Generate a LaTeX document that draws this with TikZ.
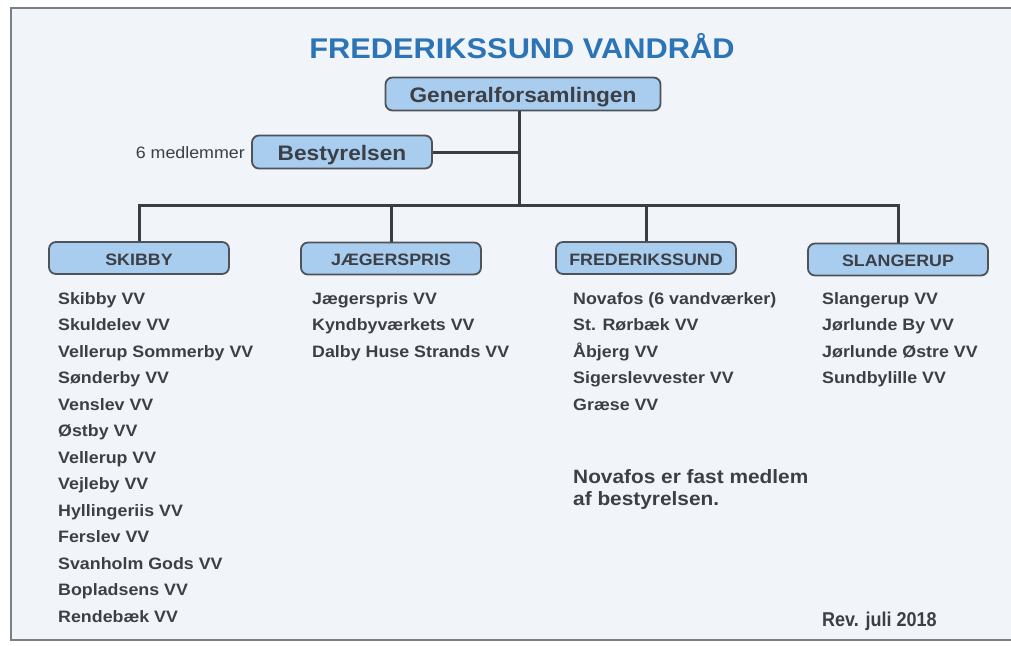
\documentclass[tikz,border=0pt]{standalone}
\usepackage{fontspec}
\setmainfont{Liberation Sans}[FakeStretch=1.08]
\newfontfamily\narrowfont{Liberation Sans}[FakeStretch=0.9]
\definecolor{bgc}{HTML}{F1F4F9}
\definecolor{framec}{HTML}{7A7F87}
\definecolor{titlec}{HTML}{2B74B6}
\definecolor{txt}{HTML}{3C3F46}
\definecolor{boxfill}{HTML}{A9CDEE}
\definecolor{boxline}{HTML}{4E535A}
\definecolor{linec}{HTML}{3A3D42}
\tikzset{
  orgbox/.style={draw=boxline, fill=boxfill, rounded corners=7pt, line width=1.8pt,
    inner sep=0pt, text=txt, font=\fontsize{16.5}{19}\selectfont\bfseries,
    text height=14.5pt, text depth=0pt,
    minimum width=180pt, minimum height=32pt},
  bigbox/.style={orgbox, font=\fontsize{21}{24}\selectfont\bfseries, text height=17pt, minimum height=33pt},
  lst/.style={anchor=base west, inner sep=0pt, text=txt, font=\fontsize{16.5}{19}\selectfont\bfseries},
  conn/.style={draw=linec, line width=3pt}
}
\begin{document}
\begin{tikzpicture}[x=1pt,y=-1pt]
\useasboundingbox (0,0) rectangle (1011,645);
\fill[white] (0,0) rectangle (1011,645);
\fill[bgc] (11,8) rectangle (1030,640);
\draw[framec, line width=2.5pt] (1030,8) -- (11,8) -- (11,640) -- (1030,640);

\node[inner sep=0pt, text=titlec, text height=20.4pt, text depth=0pt, font=\fontsize{28.5}{32}\selectfont\bfseries] (title) at (522,48) {FREDERIKSSUND VANDRÅD};

\node[bigbox, minimum width=275pt] (gen) at (523,94) {Generalforsamlingen};
\node[bigbox, minimum width=180pt] (best) at (342,152) {Bestyrelsen};
\node[anchor=base east, inner sep=0pt, text=txt, font=\fontsize{16.5}{19}\selectfont] (med) at (245,158) {6 medlemmer};

\node[orgbox] (sk) at (139,258) {SKIBBY};
\node[orgbox] (jp) at (391,258.5) {JÆGERSPRIS};
\node[orgbox] (fr) at (646,258) {FREDERIKSSUND};
\node[orgbox] (sl) at (898,259.5) {SLANGERUP};

\coordinate (bus) at (519,205);
\draw[conn] (gen.south -| bus) -- (bus);
\draw[conn] (best.east) -- (best.east -| bus);
\draw[conn] (sk.north) |- (sl.north |- bus) -- (sl.north);
\draw[conn] (jp.north) -- (jp.north |- bus);
\draw[conn] (fr.north) -- (fr.north |- bus);

% SKIBBY list
\node[lst] (s1) at (58,304) {Skibby VV};
\node[lst] (s2) at (58,330.5) {Skuldelev VV};
\node[lst] (s3) at (58,357) {Vellerup Sommerby VV};
\node[lst] (s4) at (58,383.5) {Sønderby VV};
\node[lst] (s5) at (58,410) {Venslev VV};
\node[lst] (s6) at (58,436.5) {Østby VV};
\node[lst] (s7) at (58,463) {Vellerup VV};
\node[lst] (s8) at (58,489.5) {Vejleby VV};
\node[lst] (s9) at (58,516) {Hyllingeriis VV};
\node[lst] (s10) at (58,542.5) {Ferslev VV};
\node[lst] (s11) at (58,569) {Svanholm Gods VV};
\node[lst] (s12) at (58,595.5) {Bopladsens VV};
\node[lst] (s13) at (58,622) {Rendebæk VV};

% JAEGERSPRIS list
\node[lst] (j1) at (312,304) {Jægerspris VV};
\node[lst] (j2) at (312,330.5) {Kyndbyværkets VV};
\node[lst] (j3) at (312,357) {Dalby Huse Strands VV};

% FREDERIKSSUND list
\node[lst] (f1) at (573,304) {Novafos (6 vandværker)};
\node[lst] (f2) at (573,330.5) {St. Rørbæk VV};
\node[lst] (f3) at (573,357) {Åbjerg VV};
\node[lst] (f4) at (573,383.5) {Sigerslevvester VV};
\node[lst] (f5) at (573,410) {Græse VV};

\node[anchor=base west, inner sep=0pt, text=txt, align=left, font=\fontsize{19.3}{21.5}\selectfont\bfseries] (note) at (573,505) {Novafos er fast medlem\\af bestyrelsen.};

% SLANGERUP list
\node[lst] (l1) at (822,304) {Slangerup VV};
\node[lst] (l2) at (822,330.5) {Jørlunde By VV};
\node[lst] (l3) at (822,357) {Jørlunde Østre VV};
\node[lst] (l4) at (822,383.5) {Sundbylille VV};

\node[anchor=base west, inner sep=0pt, text=txt, font=\narrowfont\fontsize{20}{22}\selectfont\bfseries] (rev) at (822,626) {Rev. juli 2018};
\end{tikzpicture}
\end{document}
